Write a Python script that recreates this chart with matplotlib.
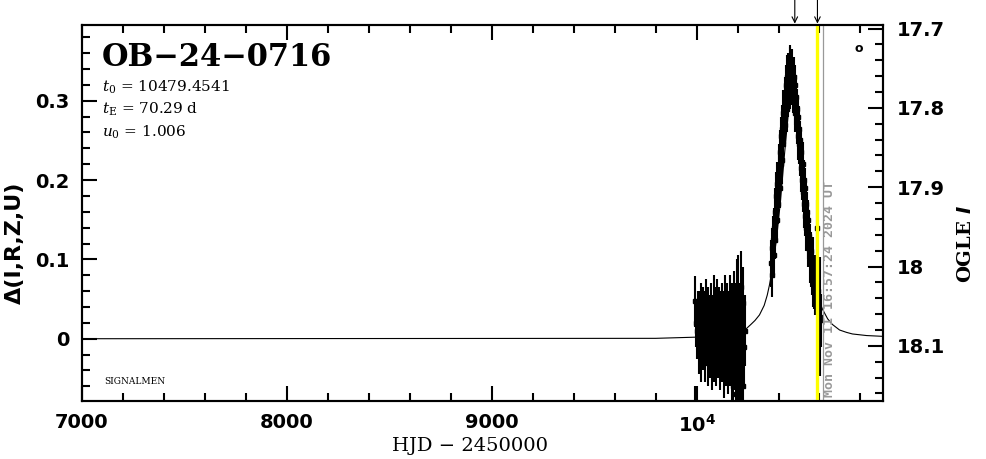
import numpy as np
import matplotlib
matplotlib.use("Agg")
from matplotlib import pyplot as plt
from matplotlib.ticker import MultipleLocator, FixedLocator, FixedFormatter

# event parameters (as printed on the chart)
name = "OB\u221224\u22120716"
t0 = 10479.4541
tE = 70.29
u0 = 1.006
I0 = 18.091          # baseline OGLE I magnitude (Delta = 0)
t_now = 10590.0      # yellow line / arrow
t_last = 10615.0     # gray line

# OGLE photometry, season 2023 : HJD-2450000, Delta mag, error
s1_t = [9990, 9990, 9996, 10002, 10006, 10010, 10014, 10018, 10021, 10024, 10027,
        10030, 10033, 10036, 10039, 10042, 10045, 10048, 10051, 10054, 10057,
        10060, 10063, 10066, 10069, 10072, 10075, 10078, 10081, 10084, 10087,
        10090, 10093, 10096, 10099, 10102, 10105, 10108, 10111, 10114, 10117,
        10120, 10123, 10126, 10129, 10132, 10135, 10138, 10141, 10144, 10147,
        10150, 10153, 10156, 10159, 10162, 10165, 10168, 10171, 10174, 10177,
        10180, 10183, 10186, 10189, 10192, 10195, 10198, 10201, 10204, 10207,
        10210, 10213, 10216, 10219, 10222, 10225, 10228, 10231, 10234]
s1_d = [0.047, -0.095, 0.020, 0.010, 0.030, -0.010, 0.025, 0.005, 0.040, -0.020, 0.015,
        0.035, -0.005, 0.030, -0.025, 0.010, 0.045, 0.000, 0.020, -0.030, 0.035,
        0.005, 0.025, -0.015, 0.040, 0.010, -0.035, 0.020, 0.000, 0.045, -0.020,
        0.015, 0.030, -0.025, 0.040, 0.005, -0.010, 0.030, 0.010, -0.030, 0.020,
        0.000, 0.035, -0.015, 0.015, -0.040, 0.025, 0.005, 0.045, -0.020, 0.010,
        0.030, -0.035, 0.020, 0.000, 0.040, -0.025, 0.015, -0.045, 0.030, 0.005,
        -0.060, 0.045, -0.015, 0.025, -0.070, 0.050, 0.000, -0.080, 0.060, -0.030,
        0.020, -0.085, 0.065, -0.040, 0.030, -0.060, 0.045, -0.010, 0.010]
s1_e = [0.032, 0.035, 0.030, 0.035, 0.030, 0.035, 0.035, 0.030, 0.030, 0.035, 0.035,
        0.030, 0.035, 0.030, 0.030, 0.035, 0.030, 0.035, 0.035, 0.030, 0.030,
        0.035, 0.030, 0.035, 0.030, 0.035, 0.030, 0.035, 0.030, 0.035, 0.035,
        0.040, 0.035, 0.035, 0.035, 0.030, 0.040, 0.035, 0.035, 0.035, 0.040,
        0.035, 0.035, 0.040, 0.035, 0.035, 0.035, 0.040, 0.035, 0.040, 0.035,
        0.040, 0.035, 0.040, 0.035, 0.040, 0.035, 0.040, 0.045, 0.040, 0.045,
        0.045, 0.040, 0.050, 0.045, 0.045, 0.050, 0.045, 0.050, 0.045, 0.055,
        0.050, 0.055, 0.045, 0.055, 0.045, 0.055, 0.045, 0.050, 0.045]

# season 2024
s2_t = [10362, 10366, 10370, 10373, 10376, 10378, 10382, 10384, 10386, 10390, 10392,
        10394, 10398, 10400, 10402, 10406, 10408, 10410, 10414, 10416, 10418, 10422,
        10424, 10426, 10430, 10432, 10434, 10438, 10440, 10442, 10446, 10448, 10450,
        10454, 10456, 10458, 10462, 10464, 10466, 10470, 10472, 10474, 10478, 10480,
        10482, 10486, 10488, 10490, 10494, 10496, 10498, 10502, 10504, 10506, 10510,
        10512, 10514, 10518, 10520, 10522, 10526, 10528, 10530, 10534, 10536, 10538,
        10542, 10544, 10546, 10550, 10552, 10554, 10558, 10560, 10562, 10566, 10568,
        10570, 10574, 10576, 10578, 10590, 10594, 10602, 10608]
s2_d = [0.095, 0.115, 0.080, 0.125, 0.105, 0.140, 0.160, 0.125, 0.150, 0.180, 0.150,
        0.195, 0.170, 0.205, 0.215, 0.190, 0.235, 0.220, 0.255, 0.225, 0.265, 0.245,
        0.285, 0.270, 0.300, 0.270, 0.295, 0.320, 0.290, 0.330, 0.305, 0.335, 0.320,
        0.340, 0.315, 0.345, 0.325, 0.340, 0.330, 0.325, 0.310, 0.330, 0.300, 0.320,
        0.285, 0.305, 0.275, 0.290, 0.255, 0.280, 0.245, 0.265, 0.230, 0.250, 0.215,
        0.235, 0.200, 0.220, 0.185, 0.200, 0.170, 0.190, 0.155, 0.170, 0.140, 0.160,
        0.130, 0.150, 0.115, 0.130, 0.100, 0.120, 0.095, 0.110, 0.080, 0.100, 0.070,
        0.085, 0.065, 0.080, 0.055, 0.140, 0.060, 0.028, 0.023]
s2_e = [0.030, 0.025, 0.028, 0.030, 0.025, 0.025, 0.030, 0.025, 0.025, 0.030, 0.028,
        0.028, 0.025, 0.030, 0.030, 0.025, 0.028, 0.028, 0.025, 0.030, 0.030, 0.025,
        0.028, 0.025, 0.030, 0.025, 0.025, 0.025, 0.030, 0.028, 0.025, 0.025, 0.025,
        0.028, 0.025, 0.025, 0.030, 0.025, 0.025, 0.028, 0.025, 0.025, 0.030, 0.025,
        0.025, 0.028, 0.030, 0.025, 0.030, 0.025, 0.025, 0.028, 0.025, 0.025, 0.030,
        0.028, 0.025, 0.028, 0.025, 0.025, 0.030, 0.025, 0.025, 0.028, 0.030, 0.025,
        0.030, 0.025, 0.025, 0.028, 0.030, 0.025, 0.030, 0.025, 0.025, 0.028, 0.030,
        0.025, 0.028, 0.025, 0.025, 0.035, 0.040, 0.075, 0.033]

# model curve
mod_t = [7000, 9800, 10000, 10100, 10180, 10220, 10244, 10265, 10285, 10307,
         10330, 10345, 10356, 10371, 10390, 10410, 10430, 10450, 10466, 10482,
         10502, 10522, 10542, 10561, 10576, 10595, 10615, 10640, 10663, 10698,
         10732, 10761, 10830, 10910]
mod_d = [0.0, 0.0005, 0.002, 0.004, 0.007, 0.010, 0.013, 0.018, 0.023, 0.030,
         0.042, 0.055, 0.068, 0.090, 0.125, 0.175, 0.235, 0.290, 0.318, 0.290,
         0.235, 0.175, 0.125, 0.090, 0.068, 0.050, 0.037, 0.025, 0.018, 0.011,
         0.008, 0.006, 0.004, 0.003]

xlim = (7000, 10910)
ylim = (-0.0785, 0.3955)

fig = plt.figure(figsize=(9.86, 4.59), dpi=100)
ax = fig.add_axes([82 / 986, 58 / 459, 801 / 986, 376 / 459])

ax.plot(mod_t, mod_d, color="black", lw=0.8, zorder=2)
for t, d, e in [(s1_t, s1_d, s1_e), (s2_t, s2_d, s2_e)]:
    ax.errorbar(t, d, yerr=e, fmt="s", ms=2.2, color="black", ecolor="black",
                elinewidth=1.5, capsize=0, zorder=3)

ax.axvline(t_now, color="#ffff00", lw=2.4, zorder=4)
ax.axvline(t_last, color="#999999", lw=0.9, zorder=4)
ax.text(t_last + 32, -0.073, "Mon Nov 11 16:57:24 2024 UT", rotation=90,
        ha="center", va="bottom", color="#999999", fontsize=9.5,
        family="DejaVu Sans Mono", weight="bold", zorder=5)

ax.set_xlim(*xlim)
ax.set_ylim(*ylim)

ax.xaxis.set_major_locator(FixedLocator([7000, 8000, 9000, 10000]))
ax.xaxis.set_major_formatter(FixedFormatter(["7000", "8000", "9000", r"$\mathbf{10^4}$"]))
ax.xaxis.set_minor_locator(MultipleLocator(200))
ax.yaxis.set_major_locator(FixedLocator([0, 0.1, 0.2, 0.3]))
ax.yaxis.set_major_formatter(FixedFormatter(["0", "0.1", "0.2", "0.3"]))
ax.yaxis.set_minor_locator(MultipleLocator(0.02))

ax.tick_params(which="both", direction="in", top=True, right=False, width=1.5,
               labelsize=14, pad=9)
ax.tick_params(which="major", length=11)
ax.tick_params(which="minor", length=5.5)
for lab in ax.get_xticklabels() + ax.get_yticklabels():
    lab.set_fontweight("bold")
for sp in ax.spines.values():
    sp.set_linewidth(1.5)

ax2 = ax.twinx()
ax2.set_ylim(I0 - ylim[0], I0 - ylim[1])
ax2.yaxis.set_major_locator(FixedLocator([17.7, 17.8, 17.9, 18.0, 18.1]))
ax2.yaxis.set_major_formatter(FixedFormatter(["17.7", "17.8", "17.9", "18", "18.1"]))
ax2.yaxis.set_minor_locator(MultipleLocator(0.02))
ax2.tick_params(which="both", direction="in", width=1.5, labelsize=14, pad=10)
ax2.tick_params(which="major", length=11)
ax2.tick_params(which="minor", length=5.5)
for lab in ax2.get_yticklabels():
    lab.set_fontweight("bold")
for sp in ax2.spines.values():
    sp.set_linewidth(1.5)

# labels
fig.text(470 / 986, 13 / 459, "HJD \u2212 2450000", ha="center", va="center",
         family="DejaVu Serif", fontsize=14)
fig.text(15 / 986, 216 / 459, "\u0394(I,R,Z,U)", rotation=90, ha="center",
         va="center", fontsize=16, weight="bold")
fig.text(966 / 986, 215 / 459, r"OGLE $\mathbfit{I}$", rotation=90, ha="center",
         va="center", family="DejaVu Serif", fontsize=14, weight="bold")

# event info
fig.text(102 / 986, 1 - 57 / 459, name, ha="left", va="center",
         family="DejaVu Serif", fontsize=22, weight="bold")
info = [r"$t_0$ = %.4f" % t0, r"$t_{\rm E}$ = %.2f d" % tE, r"$u_0$ = %.3f" % u0]
for i, s in enumerate(info):
    fig.text(102 / 986, 1 - (87 + 22.5 * i) / 459, s, ha="left", va="center",
             family="DejaVu Serif", fontsize=11, math_fontfamily="dejavuserif")
fig.text(104 / 986, 1 - 381 / 459, "SIGNALMEN", ha="left", va="center",
         family="DejaVu Serif", fontsize=6.5)
fig.text(859 / 986, 1 - 48 / 459, "o", ha="center", va="center",
         fontsize=9, weight="bold")

# arrows above the frame
for t in [t0, t_now]:
    ax.annotate("", xy=(t, 1.0), xycoords=("data", "axes fraction"),
                xytext=(t, 1.0 + 25 / 376), textcoords=("data", "axes fraction"),
                arrowprops=dict(arrowstyle="->", lw=0.8, color="black",
                                shrinkA=0, shrinkB=1),
                annotation_clip=False)

fig.savefig("out.png", dpi=100)
